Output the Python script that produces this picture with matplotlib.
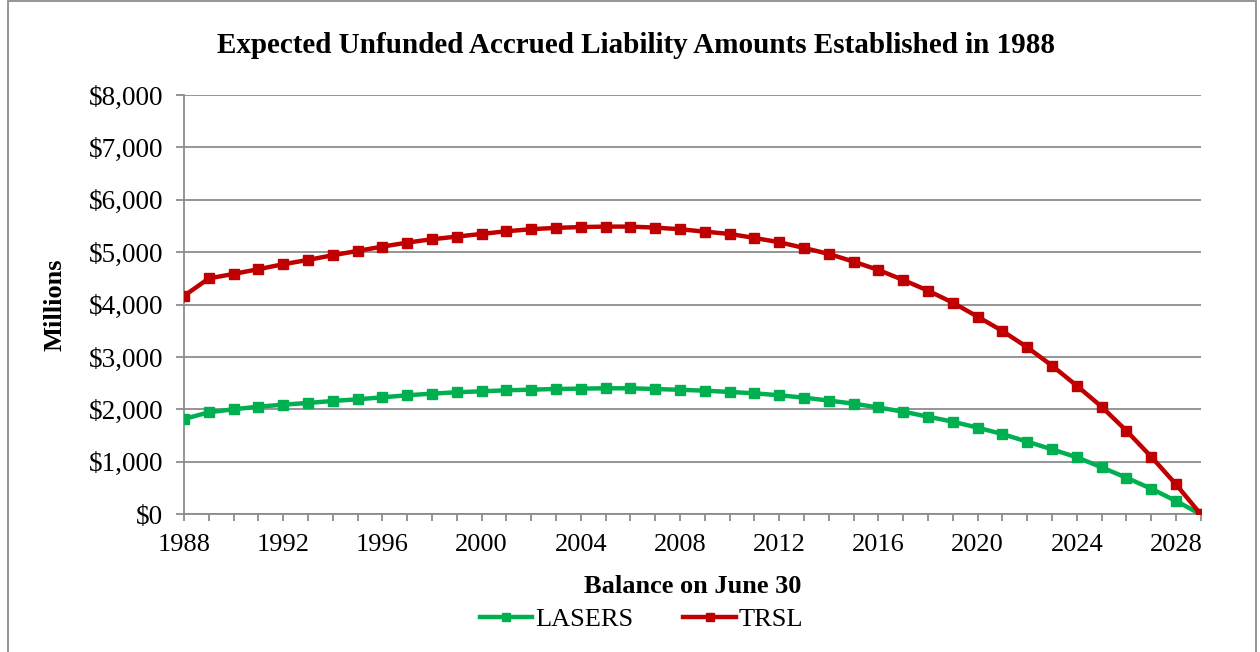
import numpy as np
import matplotlib

matplotlib.use("Agg")
import matplotlib.pyplot as plt
from matplotlib.patches import Rectangle
from matplotlib.ticker import FuncFormatter, MultipleLocator

plt.rcParams["font.family"] = ["Liberation Serif", "DejaVu Serif"]

years = list(range(1988, 2030))
lasers = [1818, 1946, 2004, 2053, 2092, 2124, 2162, 2194, 2232, 2271,
          2302, 2328, 2347, 2366, 2378, 2391, 2398, 2404, 2404, 2391,
          2375, 2359, 2334, 2309, 2271, 2226, 2170, 2111, 2038, 1958,
          1863, 1767, 1653, 1532, 1386, 1240, 1088, 897, 698, 489,
          254, 0]
trsl = [4166, 4500, 4586, 4676, 4771, 4853, 4943, 5025, 5107, 5184,
        5248, 5298, 5349, 5400, 5439, 5465, 5480, 5489, 5489, 5470,
        5439, 5393, 5349, 5273, 5191, 5082, 4968, 4821, 4662, 4471,
        4267, 4038, 3771, 3498, 3187, 2836, 2454, 2053, 1595, 1099,
        572, 0]

GREEN, RED, GRIDC = "#00B050", "#C00000", "#8C8C8C"

fig = plt.figure(figsize=(12.6, 6.52), dpi=100)
ax = fig.add_axes([0.146, 0.2112, 0.807, 0.6431])

ax.plot(years, lasers, color=GREEN, lw=3.2, marker="s", ms=7, label="LASERS", zorder=3)
ax.plot(years, trsl, color=RED, lw=3.2, marker="s", ms=7, label="TRSL", zorder=4)

ax.set_xlim(1988, 2029)
ax.set_ylim(0, 8000)
ax.yaxis.set_major_locator(MultipleLocator(1000))
ax.yaxis.set_major_formatter(FuncFormatter(lambda v, _: f"${v:,.0f}"))
ax.set_xticks(years, minor=True)
ax.set_xticks(list(range(1988, 2030, 4)))
ax.grid(axis="y", color=GRIDC, lw=1.3)
ax.set_axisbelow(True)

for s in ("top", "right"):
    ax.spines[s].set_visible(False)
for s in ("left", "bottom"):
    ax.spines[s].set_color(GRIDC)
    ax.spines[s].set_linewidth(1.3)
ax.tick_params(axis="y", colors=GRIDC, length=6, width=1.3, labelsize=19.5, labelcolor="black", pad=9)
ax.tick_params(axis="x", which="both", colors=GRIDC, length=5, width=1.3, direction="out")
ax.tick_params(axis="x", labelsize=19, labelcolor="black", pad=9)

ax.set_ylabel("Millions", fontsize=19, fontweight="bold", labelpad=16)
ax.set_xlabel("Balance on June 30", fontsize=19, fontweight="bold", labelpad=14)

fig.text(0.505, 0.930, "Expected Unfunded Accrued Liability Amounts Established in 1988",
         ha="center", va="center", fontsize=21, fontweight="bold")

fig.legend(loc="center", bbox_to_anchor=(0.509, 0.050), ncol=2, frameon=False,
           fontsize=19, handlelength=2.0, columnspacing=1.9, handletextpad=0.1,
           markerscale=0.8)

fig.patches.append(Rectangle((8 / 1260, -0.05), 1248 / 1260, 1.048, transform=fig.transFigure,
                             fill=False, edgecolor="#8C8C8C", lw=1.3))

fig.savefig("out.png", dpi=100)
